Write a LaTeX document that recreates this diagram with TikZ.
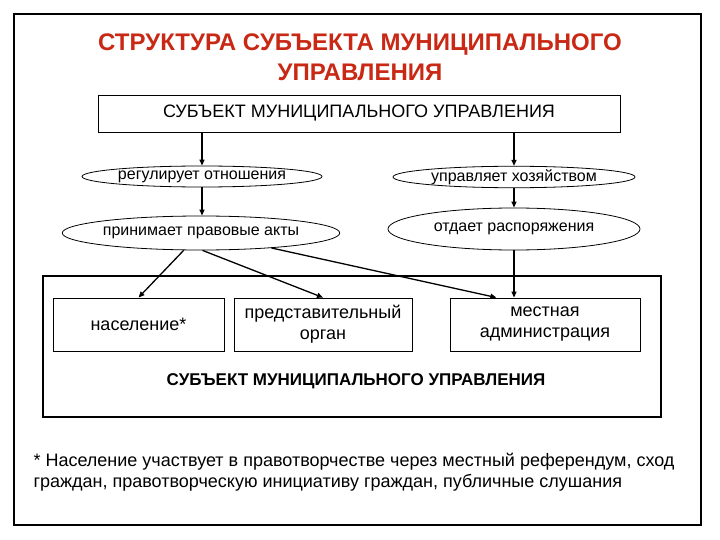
\documentclass[tikz,border=0pt]{standalone}
\usepackage{fontspec}
\setmainfont{Liberation Sans}
\usepackage{xcolor}
\usetikzlibrary{arrows.meta,shapes.geometric}

\definecolor{titlered}{RGB}{200,40,20}

\tikzset{
  act/.style={draw=black, line width=0.8pt, ellipse, inner sep=0pt, font=\fontsize{16}{18}\selectfont},
  unit/.style={draw=black, line width=0.9pt, inner sep=0pt, align=center, font=\fontsize{18}{21}\selectfont},
  link/.style={line width=1.3pt, -{Triangle[length=6pt,width=5pt]}}
}

\begin{document}
\begin{tikzpicture}[x=1pt,y=-1pt]
  \useasboundingbox (0,0) rectangle (720,540);
  \draw[line width=1.2pt] (14,14) rectangle (701,525);

  % title
  \node[font=\bfseries\fontsize{24}{29.5}\selectfont, text=titlered, align=center] (title) at (360,57)
    {СТРУКТУРА СУБЪЕКТА МУНИЦИПАЛЬНОГО\\УПРАВЛЕНИЯ};

  \node[unit, minimum width=522pt, minimum height=37pt] (subj) at (359,113.5)
    {СУБЪЕКТ МУНИЦИПАЛЬНОГО УПРАВЛЕНИЯ};

  % actions
  \node[act, minimum width=240pt, minimum height=21pt] (reg) at (202,176.5) {регулирует отношения};
  \node[act, minimum width=248pt, minimum height=34pt] (prin) at (201,233) {принимает правовые акты};
  \node[act, minimum width=242pt, minimum height=21pt] (upr) at (514,177) {управляет хозяйством};
  \node[act, minimum width=252pt, minimum height=42pt] (otd) at (514,229) {отдает распоряжения};

  % lower frame
  \draw[line width=2.6pt] (43,276) rectangle (661,417);
  \node[unit, minimum width=171pt, minimum height=53pt] (nas) at (138.5,324.5) {население*};
  \node[unit, minimum width=178pt, minimum height=53pt] (pred) at (323,324.5) {представительный\\орган};
  \node[unit, minimum width=190pt, minimum height=53pt] (mest) at (545,324.5) {местная\\администрация};
  \node[font=\bfseries\fontsize{17}{20}\selectfont] (subj2) at (356,381) {СУБЪЕКТ МУНИЦИПАЛЬНОГО УПРАВЛЕНИЯ};

  % arrows
  \draw[link] (subj.south -| reg) -- (reg);
  \draw[link] (reg) -- (prin.north -| reg);
  \draw[link] (subj.south -| upr) -- (upr);
  \draw[link] (upr) -- (otd);
  \draw[link] (otd) -- (otd.south |- mest.north);
  \draw[link] (prin.-135) -- (nas.north);
  \draw[link] (prin.-85) -- (pred.north);
  \draw[link] (prin.-12) -- (mest.151);

  % footnote
  \node[anchor=north west, align=left, font=\fontsize{18}{21}\selectfont] (note) at (30,450)
    {* Население участвует в правотворчестве через местный референдум, сход\\граждан, правотворческую инициативу граждан, публичные слушания};
\end{tikzpicture}
\end{document}
